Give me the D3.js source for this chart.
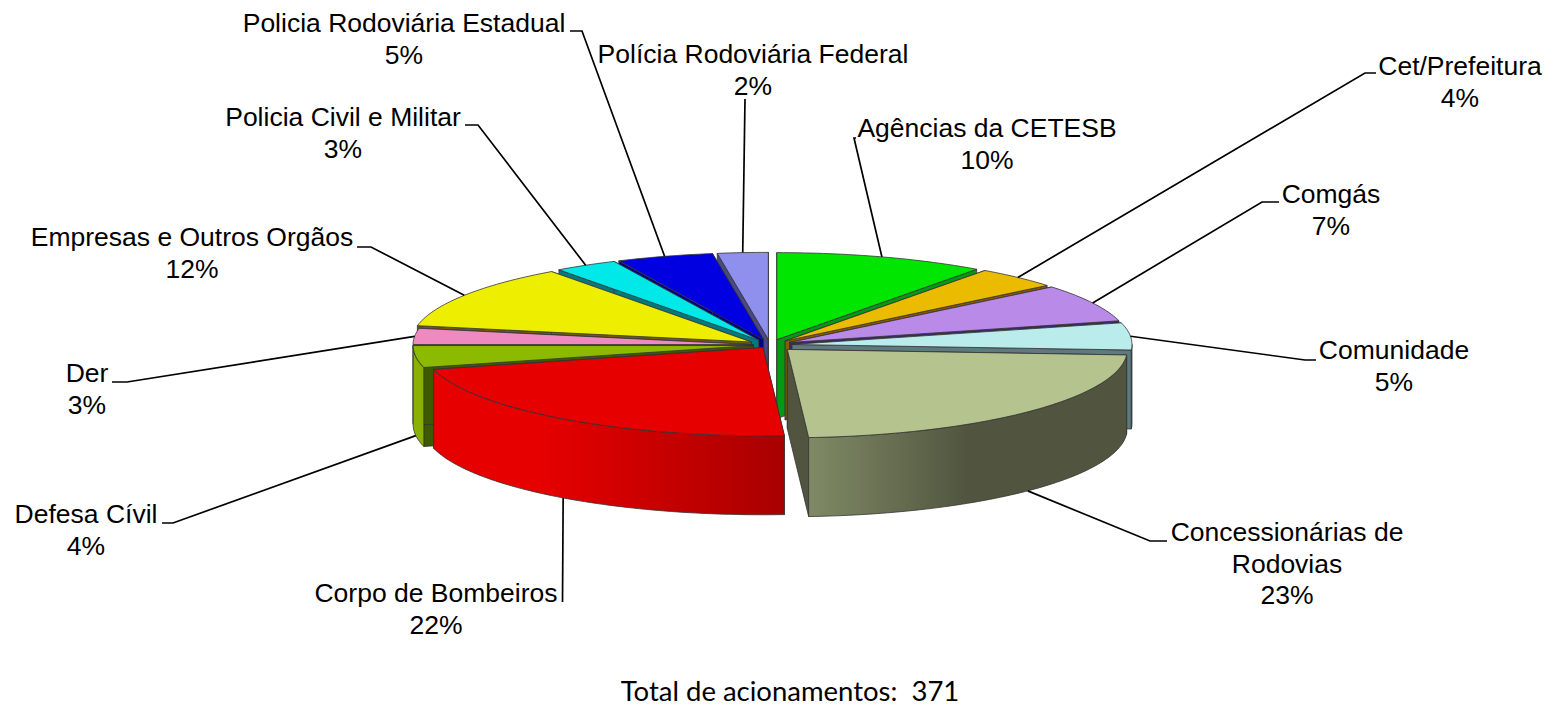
<!DOCTYPE html>
<html>
<head>
<meta charset="utf-8">
<script src="https://cdn.jsdelivr.net/npm/d3@7"></script>
<style>
  body { margin: 0; background: #fff; }
  text { font-family: "Liberation Sans", Arial, sans-serif; font-size: 26.5px; fill: #000; }
</style>
</head>
<body>
<div id="my_dataviz"></div>
<script>
// chart data
var categories = ["Agências da CETESB", "Cet/Prefeitura", "Comgás", "Comunidade", "Concessionárias de\nRodovias",
  "Corpo de Bombeiros", "Defesa Cívil", "Der", "Empresas e Outros Orgãos", "Policia Civil e Militar",
  "Policia Rodoviária Estadual", "Polícia Rodoviária Federal"];
var percents = [10, 4, 7, 5, 23, 22, 4, 3, 12, 3, 4.6, 2.4];
var totalLabel = "Total de acionamentos:  371";

// slice look
var topColors = ["#00e600", "#ebbb00", "#b98ae8", "#b9ecea", "#b5c38f", "#e60000", "#8cba00", "#ee8ac0", "#eeee00", "#00e8e8", "#0000e0", "#8f8fee"];
var faceColors = ["#009a14", "#8a5a00", "#3a2a66", "#5e7a80", "#51553f", "#8a0000", "#3d5a00", "#5a3a20", "#6d5a10", "#007a80", "#00008a", "#4a4a80"];
var wallStops = {
  4: [["0%", "#7f8a65"], ["50%", "#51553f"], ["100%", "#51553f"]],
  5: [["0%", "#e60000"], ["30%", "#e60000"], ["100%", "#a80000"]]
};
var wallColors = ["#00b010", "#b08a00", "#7a5aa0", "#5e7a80", "#51553f", "#c00000", "#8ab000", "#a05a80", "#a8a800", "#00a0a0", "#0000a0", "#6060a0"];
var explode = [.065, .065, .065, .065, .072, .035, .05, .05, .065, .065, .065, .065];

// pie geometry
var cx = 770, cy = 345, rx = 340, ry = 87, depth = 79;

// label layout: text centre, first baseline, leader end and elbow
var labelX = [987, 1460, 1331, 1394, 1287, 436, 86, 87, 192, 343, 404, 753];
var labelY = [137, 75, 203, 359, 541, 602, 523, 382, 246, 126, 32, 63];
var leaderEnd = [[856, 138], [1376, 73], [1279, 202], [1316, 360], [1167, 541], [562.5, 602], [162, 523], [112, 382], [357, 247], [465, 125], [570, 31], [745, 99]];
var leaderElbow = [[854, 138], [1365, 73], [1262, 202], [1305, 360], [1150, 541], [562.5, 602], [173, 523], [127, 382], [371, 247], [478, 125], [582, 31], [745, 99]];

var svg = d3.select("#my_dataviz")
  .append("svg")
    .attr("width", 1550)
    .attr("height", 706)
    .style("display", "block");

var defs = svg.append("defs");
Object.keys(wallStops).forEach(function(k) {
  defs.append("linearGradient")
      .attr("id", "wall" + k)
    .selectAll("stop")
    .data(wallStops[k])
    .enter()
    .append("stop")
      .attr("offset", function(d) { return d[0]; })
      .attr("stop-color", function(d) { return d[1]; });
});

var slices = d3.pie().sort(null).value(function(d) { return d; })(percents)
  .map(function(s, i) {
    var mid = (s.startAngle + s.endAngle) / 2;
    s.i = i;
    s.mid = mid;
    s.tipX = cx + explode[i] * rx * Math.sin(mid);
    s.tipY = cy - explode[i] * ry * Math.cos(mid);
    return s;
  });

// point on the rim of a slice, z goes down the wall
function rim(s, a, z) {
  var y = -ry * Math.cos(a);
  if (y > 0) y = y * 1.015;
  return [s.tipX + rx * Math.sin(a), s.tipY + y + (z || 0)];
}

function arcPoints(s, a0, a1, z) {
  var n = Math.max(2, Math.ceil((a1 - a0) / 0.02));
  return d3.range(n + 1).map(function(k) { return rim(s, a0 + (a1 - a0) * k / n, z); });
}

var line = d3.line();

function topPath(s) {
  return line([[s.tipX, s.tipY]].concat(arcPoints(s, s.startAngle, s.endAngle))) + "Z";
}

function facePath(s, a) {
  var tip = [s.tipX, s.tipY];
  return line([tip, rim(s, a), rim(s, a, depth), [tip[0], tip[1] + depth]]) + "Z";
}

function wallPath(s) {
  var a0 = Math.max(s.startAngle, Math.PI / 2), a1 = Math.min(s.endAngle, Math.PI * 1.5);
  if (a1 <= a0) return null;
  return line(arcPoints(s, a0, a1).concat(arcPoints(s, a0, a1, depth).reverse())) + "Z";
}

// draw back slices first
var order = slices.slice().sort(function(a, b) { return d3.ascending(-Math.cos(a.mid), -Math.cos(b.mid)); });

var g = svg.append("g")
  .selectAll("g")
  .data(order)
  .enter()
  .append("g")
    .attr("stroke", "#333")
    .attr("stroke-width", 0.8)
    .attr("stroke-linejoin", "round");

g.selectAll("path.face")
  .data(function(s) { return [[s, s.startAngle], [s, s.endAngle]]; })
  .enter()
  .append("path")
    .attr("class", "face")
    .attr("d", function(d) { return facePath(d[0], d[1]); })
    .attr("fill", function(d) { return faceColors[d[0].i]; });

g.filter(wallPath)
  .append("path")
    .attr("d", wallPath)
    .attr("fill", function(s) { return wallStops[s.i] ? "url(#wall" + s.i + ")" : wallColors[s.i]; });

g.append("path")
    .attr("d", topPath)
    .attr("fill", function(s) { return topColors[s.i]; });

// leader lines
svg.append("g")
  .selectAll("path")
  .data(slices)
  .enter()
  .append("path")
    .attr("fill", "none")
    .attr("stroke", "#000")
    .attr("stroke-width", 1.7)
    .attr("d", function(s) {
      var front = Math.cos(s.mid) < -0.1;
      return line([leaderEnd[s.i], leaderElbow[s.i], rim(s, s.mid, front ? depth : 0)]);
    });

// labels
var labels = svg.append("g")
  .selectAll("text")
  .data(slices)
  .enter()
  .append("text")
    .attr("text-anchor", "middle")
    .attr("transform", function(s) { return "translate(" + labelX[s.i] + "," + labelY[s.i] + ")"; });

labels.selectAll("tspan")
  .data(function(s) { return categories[s.i].split("\n").concat(Math.round(percents[s.i]) + "%"); })
  .enter()
  .append("tspan")
    .attr("x", 0)
    .attr("dy", function(d, k) { return k ? 31.7 : 0; })
    .text(function(d) { return d; });

svg.append("text")
    .attr("transform", "translate(790,700.5) scale(1.058,1)")
    .attr("text-anchor", "middle")
    .style("font-family", "Lato, sans-serif")
    .style("font-size", "26px")
    .style("white-space", "pre")
    .text(totalLabel);
</script>
</body>
</html>
